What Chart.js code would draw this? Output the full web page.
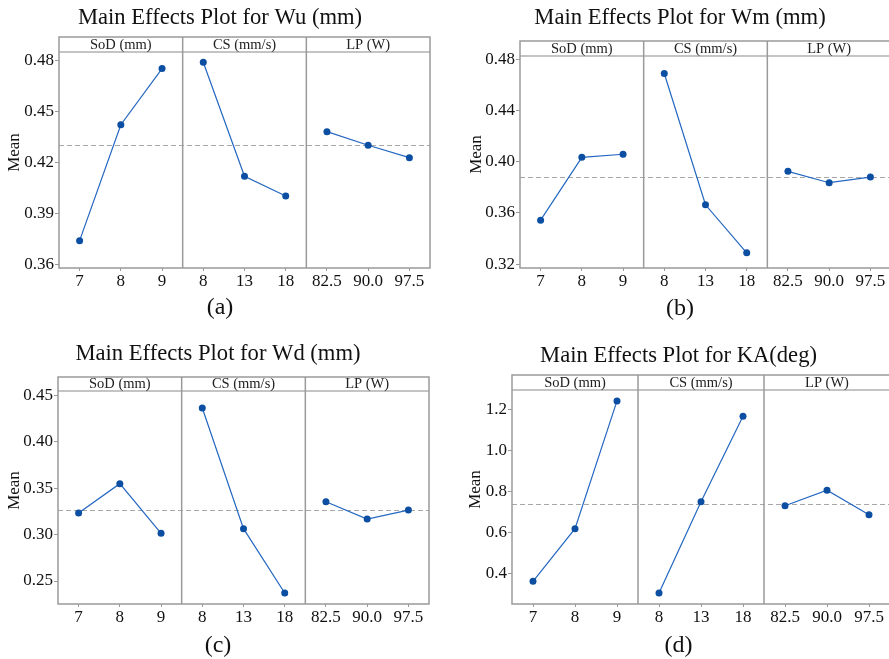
<!DOCTYPE html>
<html>
<head>
<meta charset="utf-8">
<script src="https://cdn.jsdelivr.net/npm/chart.js@4.4.1/dist/chart.umd.min.js"></script>
<style>
  html, body { margin: 0; padding: 0; background: #fff; }
  body { width: 889px; height: 659px; overflow: hidden; position: relative; }
  canvas { position: absolute; }
</style>
</head>
<body>
<canvas id="cA"></canvas>
<canvas id="cB"></canvas>
<canvas id="cC"></canvas>
<canvas id="cD"></canvas>
<script>
// levels of each factor, shown on the x axis
const levels = ['7', '8', '9', '8', '13', '18', '82.5', '90.0', '97.5'];
const factors = ['SoD (mm)', 'CS (mm/s)', 'LP (W)'];

// Wu (mm)
const wuSoD = [0.3743, 0.4425, 0.4755];
const wuCS = [0.4792, 0.4122, 0.4006];
const wuLP = [0.4384, 0.4304, 0.4231];
const wuMean = 0.4308;

// Wm (mm)
const wmSoD = [0.3544, 0.4034, 0.4058];
const wmCS = [0.4688, 0.3664, 0.3289];
const wmLP = [0.3925, 0.3836, 0.3880];
const wmMean = 0.3880;

// Wd (mm)
const wdSoD = [0.3231, 0.3547, 0.3013];
const wdCS = [0.4360, 0.3063, 0.2371];
const wdLP = [0.3353, 0.3167, 0.3263];
const wdMean = 0.3267;

// KA (deg)
const kaSoD = [0.3627, 0.6191, 1.2422];
const kaCS = [0.3059, 0.7505, 1.1675];
const kaLP = [0.7310, 0.8073, 0.6872];
const kaMean = 0.7408;

const titles = ['Main Effects Plot for Wu (mm)', 'Main Effects Plot for Wm (mm)',
                'Main Effects Plot for Wd (mm)', 'Main Effects Plot for KA(deg)'];
const tags = ['(a)', '(b)', '(c)', '(d)'];

// canvas boxes are sized so that title and tag sit centred on the canvas
const panels = [
  { id: 'cA', groups: [wuSoD, wuCS, wuLP], mean: wuMean, y: { min: 0.3582, max: 0.4941, step: 0.03, dec: 2 },
    cv: { l: 0, t: 0, w: 440, h: 330 }, area: { l: 59, r: 430, t: 37, b: 268 }, strip: 15, titleY: 18, tagY: 308, meanX: 15 },
  { id: 'cB', groups: [wmSoD, wmCS, wmLP], mean: wmMean, y: { min: 0.3171, max: 0.4941, step: 0.04, dec: 2 },
    cv: { l: 445, t: 0, w: 470, h: 330 }, area: { l: 520, r: 891, t: 41, b: 268 }, strip: 15, titleY: 18, tagY: 309, meanX: 477 },
  { id: 'cC', groups: [wdSoD, wdCS, wdLP], mean: wdMean, y: { min: 0.2253, max: 0.4694, step: 0.05, dec: 2 },
    cv: { l: 0, t: 330, w: 436, h: 329 }, area: { l: 58, r: 429, t: 377, b: 604 }, strip: 14, titleY: 354, tagY: 646, meanX: 15 },
  { id: 'cD', groups: [kaSoD, kaCS, kaLP], mean: kaMean, y: { min: 0.2523, max: 1.3685, step: 0.2, dec: 1 },
    cv: { l: 445, t: 330, w: 467, h: 329 }, area: { l: 512, r: 890, t: 375, b: 604 }, strip: 15, titleY: 356, tagY: 646, meanX: 476 }
];

const serif = 'Liberation Serif';
const boxColor = '#9a9a9a';
const titleSize = 22.6;

const framePlugin = {
  id: 'frame',
  beforeDatasetsDraw(chart, args, opts) {
    const { ctx, chartArea: a, scales } = chart;
    const y = scales.y.getPixelForValue(opts.mean);
    ctx.save();
    ctx.strokeStyle = '#a8a8a8';
    ctx.lineWidth = 1;
    ctx.setLineDash([5, 3]);
    ctx.beginPath();
    ctx.moveTo(a.left, Math.round(y) + 0.5);
    ctx.lineTo(a.right, Math.round(y) + 0.5);
    ctx.stroke();
    ctx.restore();
  },
  afterDatasetsDraw(chart, args, opts) {
    const { ctx, chartArea: a, scales } = chart;
    ctx.save();
    // header strip
    ctx.fillStyle = '#fff';
    ctx.fillRect(a.left, a.top, a.right - a.left, opts.strip);
    ctx.strokeStyle = '#c4c4c4';
    ctx.lineWidth = 2;
    ctx.beginPath();
    ctx.moveTo(a.left, a.top + opts.strip);
    ctx.lineTo(a.right, a.top + opts.strip);
    ctx.stroke();
    ctx.strokeStyle = boxColor;
    ctx.lineWidth = 1.5;
    ctx.strokeRect(a.left, a.top, a.right - a.left, a.bottom - a.top);
    [2.5, 5.5].forEach(v => {
      const x = scales.x.getPixelForValue(v);
      ctx.beginPath();
      ctx.moveTo(x, a.top);
      ctx.lineTo(x, a.bottom);
      ctx.stroke();
    });
    ctx.fillStyle = '#222';
    ctx.font = '14.5px "' + serif + '"';
    ctx.textAlign = 'center';
    ctx.textBaseline = 'middle';
    opts.factors.forEach((f, i) => {
      const x = scales.x.getPixelForValue(i * 3 + 1);
      ctx.fillText(f, x, a.top + opts.strip / 2 + 0.5);
    });
    ctx.restore();
  }
};

panels.forEach((p, k) => {
  const cv = document.getElementById(p.id);
  cv.width = p.cv.w;
  cv.height = p.cv.h;
  cv.style.left = p.cv.l + 'px';
  cv.style.top = p.cv.t + 'px';
  cv.style.width = p.cv.w + 'px';
  cv.style.height = p.cv.h + 'px';

  const areaTop = p.area.t - p.cv.t;
  const areaBottom = p.area.b - p.cv.t;
  const tPadTop = (p.titleY - p.cv.t) - titleSize * 1.2 / 2;
  const tPadBottom = areaTop - tPadTop - titleSize * 1.2;
  const sPadBottom = p.cv.h - (p.tagY - p.cv.t) - 24 * 1.2 / 2;
  const xHeight = p.cv.h - 24 * 1.2 - sPadBottom - areaBottom;
  const yWidth = p.area.l - p.cv.l;
  const rightGap = p.cv.l + p.cv.w - p.area.r;

  const datasets = p.groups.map((vals, g) => {
    const data = levels.map(() => null);
    vals.forEach((v, i) => { data[g * 3 + i] = v; });
    return {
      data: data,
      borderColor: '#2467c0',
      borderWidth: 1.2,
      pointRadius: 3.5,
      pointBackgroundColor: '#0b4ea2',
      pointBorderColor: '#0b4ea2',
      pointBorderWidth: 0,
      spanGaps: false,
      tension: 0
    };
  });

  new Chart(cv, {
    type: 'line',
    data: { labels: levels, datasets: datasets },
    plugins: [framePlugin],
    options: {
      responsive: false,
      animation: false,
      devicePixelRatio: 1,
      layout: { padding: 0 },
      plugins: {
        legend: { display: false },
        tooltip: { enabled: false },
        title: {
          display: true, text: titles[k], color: '#111',
          font: { family: serif, size: titleSize, weight: 'normal' },
          padding: { top: tPadTop, bottom: tPadBottom }
        },
        subtitle: {
          display: true, text: tags[k], position: 'bottom', color: '#111',
          font: { family: serif, size: 24, weight: 'normal' },
          padding: { top: 0, bottom: sPadBottom }
        },
        frame: { mean: p.mean, strip: p.strip, factors: factors }
      },
      scales: {
        x: {
          type: 'category',
          offset: true,
          border: { display: false },
          grid: { drawOnChartArea: false, drawTicks: true, tickLength: 3, color: boxColor },
          ticks: { color: '#111', padding: 0, maxRotation: 0, autoSkip: false,
                   font: { family: serif, size: 17 } },
          afterFit(s) { s.height = xHeight; }
        },
        y: {
          min: p.y.min, max: p.y.max,
          border: { display: false },
          grid: { drawOnChartArea: false, drawTicks: true, tickLength: 4, color: boxColor },
          ticks: {
            stepSize: p.y.step, includeBounds: false, color: '#111', padding: 1,
            font: { family: serif, size: 17 },
            callback: v => Number(v).toFixed(p.y.dec)
          },
          title: {
            display: true, text: 'Mean', color: '#111',
            font: { family: serif, size: 17 },
            padding: { top: (p.meanX - p.cv.l) - 17 * 1.2 / 2, bottom: 0 }
          },
          afterFit(s) { s.width = yWidth; }
        },
        // empty right axis that only keeps the gap right of the plot box
        pad: {
          type: 'linear', position: 'right', display: true,
          border: { display: false }, grid: { display: false }, ticks: { display: false },
          afterFit(s) { s.width = rightGap; }
        }
      }
    }
  });
});
</script>
</body>
</html>
